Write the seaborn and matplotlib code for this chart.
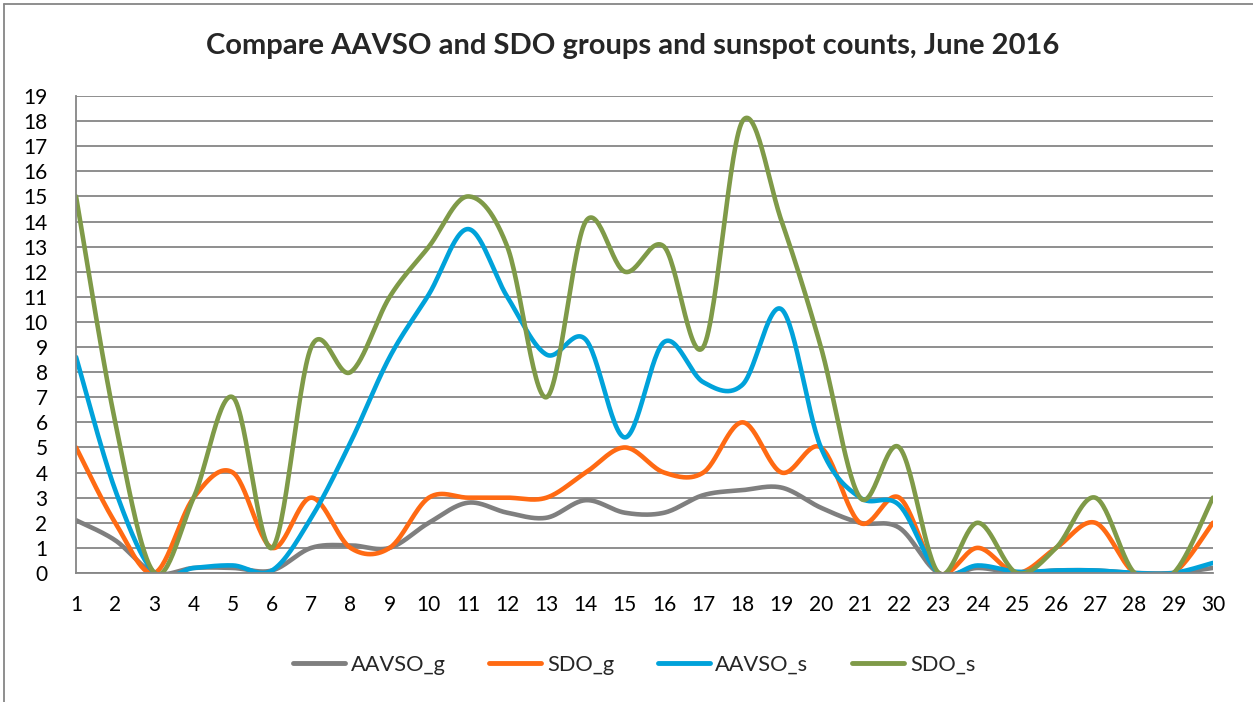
import numpy as np
import pandas as pd
import matplotlib
matplotlib.use("Agg")
import matplotlib.pyplot as plt
import seaborn as sns
from matplotlib.lines import Line2D

# data
days = list(range(1, 31))
aavso_g = [2.1, 1.3, 0, 0.2, 0.2, 0.1, 1.0, 1.1, 1.0, 2.0, 2.8, 2.4, 2.2, 2.9, 2.4,
           2.4, 3.1, 3.3, 3.4, 2.6, 2.0, 1.8, 0, 0.2, 0, 0.1, 0.1, 0, 0, 0.2]
sdo_g = [5, 2, 0, 3, 4, 1, 3, 1, 1, 3, 3, 3, 3, 4, 5,
         4, 4, 6, 4, 5, 2, 3, 0, 1, 0, 1, 2, 0, 0, 2]
aavso_s = [8.6, 3.3, 0, 0.2, 0.3, 0.1, 2.2, 5.2, 8.6, 11.1, 13.7, 11.0, 8.7, 9.3, 5.4,
           9.2, 7.6, 7.5, 10.5, 5.0, 3.0, 2.7, 0, 0.3, 0.05, 0.1, 0.1, 0, 0, 0.4]
sdo_s = [15, 6, 0, 3, 7, 1, 9, 8, 11, 13, 15, 13, 7, 14, 12,
         13, 9, 18, 14, 9, 3, 5, 0, 2, 0, 1, 3, 0, 0, 3]

names = ["AAVSO_g", "SDO_g", "AAVSO_s", "SDO_s"]
series = [aavso_g, sdo_g, aavso_s, sdo_s]
colors = ["#7f7f7f", "#ff6a13", "#00a2da", "#7f9a48"]


def smooth(x, y, n=30):
    # Catmull-Rom style bezier, like Excel's "smoothed line"
    x = np.asarray(x, float)
    y = np.asarray(y, float)
    px = np.concatenate([[x[0]], x, [x[-1]]])
    py = np.concatenate([[y[0]], y, [y[-1]]])
    xs, ys = [], []
    t = np.linspace(0, 1, n, endpoint=False)
    for i in range(1, len(px) - 2):
        p0 = np.array([px[i], py[i]])
        p3 = np.array([px[i + 1], py[i + 1]])
        c1 = p0 + (p3 - np.array([px[i - 1], py[i - 1]])) / 6
        c2 = p3 - (np.array([px[i + 2], py[i + 2]]) - p0) / 6
        b = ((1 - t) ** 3)[:, None] * p0 + (3 * (1 - t) ** 2 * t)[:, None] * c1 \
            + (3 * (1 - t) * t ** 2)[:, None] * c2 + (t ** 3)[:, None] * p3
        xs.extend(b[:, 0])
        ys.extend(b[:, 1])
    xs.append(x[-1])
    ys.append(y[-1])
    return xs, ys


rows = []
for name, vals in zip(names, series):
    sx, sy = smooth(days, vals)
    rows.append(pd.DataFrame({"day": sx, "count": sy, "series": name}))
df = pd.concat(rows, ignore_index=True)

sns.set_style("white")
plt.rcParams["font.family"] = ["Lato", "DejaVu Sans"]

fig = plt.figure(figsize=(12.53, 7.02), dpi=100)
ax = fig.add_axes([0.0607, 0.1838, 0.9073, 0.6794])

sns.lineplot(data=df, x="day", y="count", hue="series", palette=colors,
             hue_order=names, sort=False, linewidth=3.3, legend=False, ax=ax,
             estimator=None)

ax.set_xlim(1, 30)
ax.set_ylim(0, 19)
ax.set_xticks(days)
ax.set_yticks(range(0, 20))
ax.tick_params(axis="both", labelsize=15, colors="#868686", labelcolor="black",
               length=6.5, width=1.3, direction="out")
ax.tick_params(axis="x", pad=9)
ax.tick_params(axis="y", pad=14)
ax.set_xlabel("")
ax.set_ylabel("")
ax.yaxis.grid(True, color="#868686", linewidth=1.3)
ax.set_axisbelow(True)
for s in ["top", "right"]:
    ax.spines[s].set_visible(False)
for s in ["left", "bottom"]:
    ax.spines[s].set_color("#868686")
    ax.spines[s].set_linewidth(1.3)

fig.text(0.505, 0.935, "Compare AAVSO and SDO groups and sunspot counts, June 2016",
         ha="center", va="center", fontsize=21, fontweight="bold")

handles = [Line2D([], [], color=c, linewidth=3.5) for c in colors]
fig.legend(handles, names, loc="center", bbox_to_anchor=(0.506, 0.053), ncol=4,
           frameon=False, fontsize=15.7, handlelength=2.4, handletextpad=0.25,
           columnspacing=2.0)

# outer chart border (top and left visible)
fig.add_artist(Line2D([0.003, 1.0], [0.995, 0.995], color="#868686", linewidth=1.3))
fig.add_artist(Line2D([0.003, 0.003], [0.0, 0.995], color="#868686", linewidth=1.3))

fig.savefig("out.png", dpi=100)
